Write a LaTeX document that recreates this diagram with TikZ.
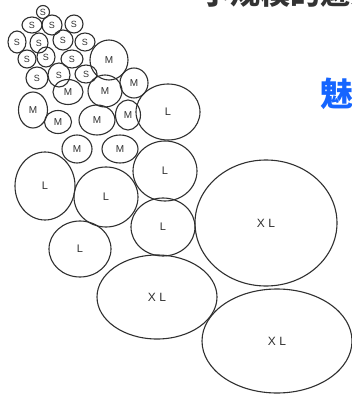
\documentclass[tikz,border=0pt]{standalone}
\usepackage{fontspec}
\setmainfont{Liberation Sans}
\newfontfamily\cjkfont{Noto Sans CJK SC}
\usetikzlibrary{shapes.geometric}
\definecolor{ink}{HTML}{303030}
\definecolor{titlegray}{HTML}{333333}
\definecolor{accent}{HTML}{1565FF}
\tikzset{
  blob/.style={ellipse, draw=ink, line width=1.1pt, inner sep=0pt, text=ink},
  sS/.style={blob, font=\fontsize{9}{9}\selectfont},
  sM/.style={blob, font=\fontsize{10}{10}\selectfont},
  sL/.style={blob, font=\fontsize{11}{11}\selectfont},
  sXL/.style={blob, font=\fontsize{12}{12}\selectfont},
  wh/.style 2 args={minimum width=#1pt, minimum height=#2pt}
}
\begin{document}
\begin{tikzpicture}[x=1pt,y=-1pt]
\useasboundingbox[fill=white] (0,0) rectangle (352,396);
% clipped heading fragments
\node[anchor=base west, inner sep=0pt, text=titlegray, font=\cjkfont\bfseries\fontsize{30}{30}\selectfont] (title) at (200,5) {小规模的魅力};
\node[anchor=base west, inner sep=0pt, text=accent, font=\cjkfont\bfseries\fontsize{33}{33}\selectfont] (accentword) at (320,106) {魅力};
% S
\node[sS, wh={13}{13}] (s1) at (43,12) {S};
\node[sS, wh={20}{16}] (s2) at (32,25) {S};
\node[sS, wh={20}{20}] (s3) at (52,25) {S};
\node[sS, wh={18}{18}] (s4) at (74,24) {S};
\node[sS, wh={18}{22}] (s5) at (17,42) {S};
\node[sS, wh={18}{20}] (s6) at (39,43) {S};
\node[sS, wh={20}{20}] (s7) at (63,40) {S};
\node[sS, wh={20}{18}] (s8) at (85,42) {S};
\node[sS, wh={18}{18}] (s9) at (27,59) {S};
\node[sS, wh={18}{20}] (s10) at (46,57) {S};
\node[sS, wh={22}{18}] (s11) at (72,59) {S};
\node[sS, wh={22}{22}] (s12) at (37,78) {S};
\node[sS, wh={22}{24}] (s13) at (59,75) {S};
\node[sS, wh={22}{18}] (s14) at (86,74) {S};
% M
\node[sM, wh={38}{40}] (m1) at (109,60) {M};
\node[sM, wh={28}{30}] (m2) at (134,83) {M};
\node[sM, wh={34}{32}] (m3) at (105,91) {M};
\node[sM, wh={30}{25}] (m4) at (68,92) {M};
\node[sM, wh={29}{36}] (m5) at (33,110) {M};
\node[sM, wh={27}{23}] (m6) at (58,122) {M};
\node[sM, wh={36}{30}] (m7) at (97,120) {M};
\node[sM, wh={25}{30}] (m8) at (128,115) {M};
\node[sM, wh={30}{28}] (m9) at (77,149) {M};
\node[sM, wh={36}{28}] (m10) at (120,149) {M};
% L
\node[sL, wh={64}{56}] (l1) at (168,112) {L};
\node[sL, wh={64}{60}] (l2) at (165,171) {L};
\node[sL, wh={60}{68}] (l3) at (45,186) {L};
\node[sL, wh={64}{60}] (l4) at (106,197) {L};
\node[sL, wh={64}{58}] (l5) at (163,227) {L};
\node[sL, wh={62}{56}] (l6) at (80,249) {L};
% XL
\node[sXL, wh={142}{126}] (xl1) at (266,223) {X L};
\node[sXL, wh={120}{84}] (xl2) at (157,297) {X L};
\node[sXL, wh={150}{104}] (xl3) at (277,341) {X L};
\end{tikzpicture}
\end{document}
